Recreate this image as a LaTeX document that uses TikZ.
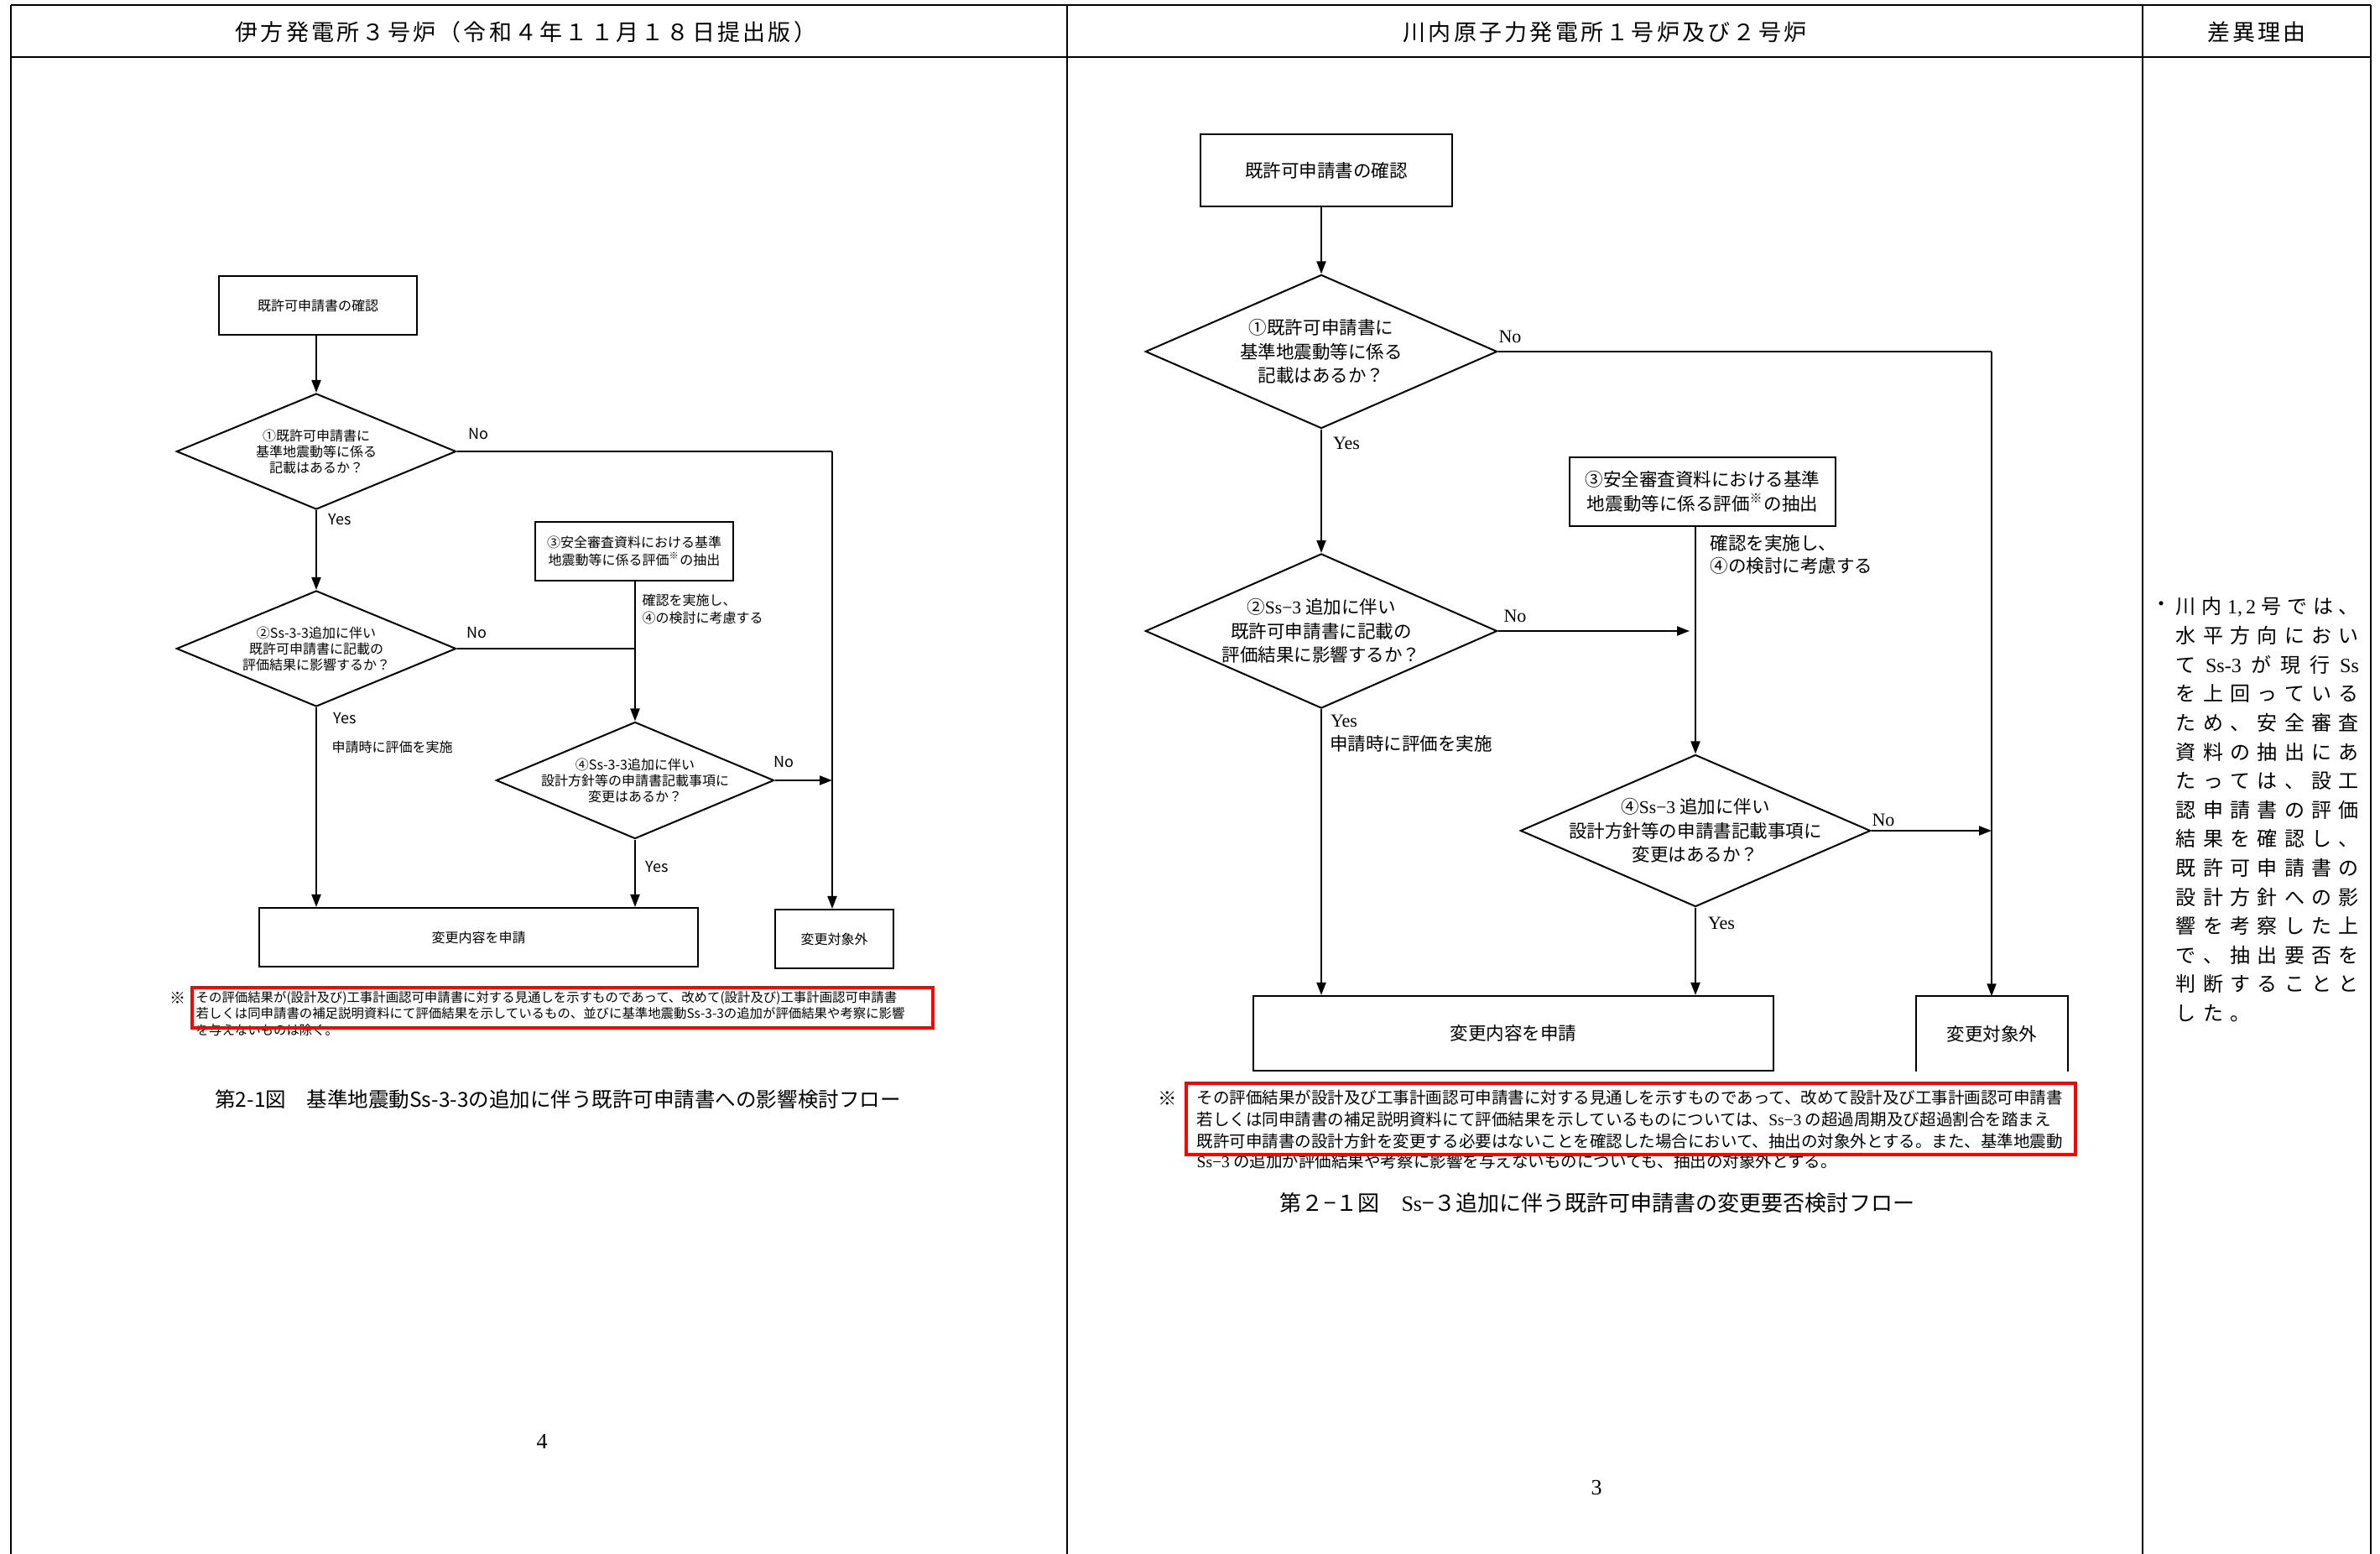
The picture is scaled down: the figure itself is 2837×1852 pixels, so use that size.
\documentclass[tikz,border=0pt]{standalone}
\usepackage{fontspec}
\setmainfont{Noto Sans CJK JP}
\newfontfamily\jp{Noto Sans CJK JP}
\newfontfamily\jphd[LetterSpace=12]{Noto Sans CJK JP}
\newfontfamily\serf{Liberation Serif}
\usetikzlibrary{shapes.geometric,arrows.meta}
\newcommand\fsz[2]{\fontsize{#1}{#2}\selectfont}
\newcommand\zl[1]{\makebox[0pt]{#1}}
\newcommand\SL[1]{\makebox[2.18cm][s]{#1}}
\tikzset{
 tbl/.style={line width=0.025cm},
 ln/.style={line width=0.02cm},
 arr/.style={ln,-{Triangle[length=0.15cm,width=0.11cm]}},
 lbox/.style={draw,ln,inner sep=0,align=center,font=\jp\fsz{4.55}{5.9}},
 ldia/.style={diamond,draw,ln,inner sep=0,align=center,font=\jp\fsz{4.55}{5.41},minimum width=3.33cm,minimum height=1.38cm},
 llab/.style={inner sep=0,font=\jp\fsz{5.12}{6}},
 ltxt/.style={inner sep=0,align=left,font=\jp\fsz{4.55}{5.97}},
 rbox/.style={draw,ln,inner sep=0,align=center,font=\jp\fsz{6.12}{8.25}},
 rdia/.style={diamond,draw,ln,inner sep=0,align=center,font=\jp\fsz{6.12}{8.11}},
 rlab/.style={inner sep=0,font=\serf\fsz{6.26}{7}},
 rtxt/.style={inner sep=0,align=left,font=\jp\fsz{6.12}{7.68}},
 lnote/.style={inner sep=0,anchor=west,font=\jp\fsz{4.38}{5.5}},
 rnote/.style={inner sep=0,anchor=west,font=\jp\fsz{5.55}{7}},
 redbox/.style={draw=red,line width=0.035cm},
 hd/.style={inner sep=0,font=\jphd\fsz{7.68}{9}},
 capt/.style={inner sep=0,font=\jp\fsz{6.97}{8}},
 colt/.style={inner sep=0,anchor=west,font=\jp\fsz{6.83}{8}},
 pg/.style={inner sep=0,font=\serf\fsz{7.4}{8}},
}
\begin{document}
\begin{tikzpicture}[x=0.01cm,y=-0.01cm]
\useasboundingbox (0,0) rectangle (2837,1852);
\fill[white] (0,0) rectangle (2837,1852);
% table
\draw[tbl] (13,6) -- (2826,6);
\draw[tbl] (13,68) -- (2826,68);
\draw[tbl] (13,6) -- (13,1852);
\draw[ln] (1272,6) -- (1272,1852);
\draw[ln] (2554,6) -- (2554,1852);
\draw[tbl] (2826,6) -- (2826,1852);
\node[hd] (h1) at (627,38) {伊方発電所３号炉（令和４年１１月１８日提出版）};
\node[hd] (h2) at (1913,38) {川内原子力発電所１号炉及び２号炉};
\node[hd] (h3) at (2690,38) {差異理由};

% ---------------- left flowchart
\node[lbox,minimum width=2.36cm,minimum height=0.69cm] (LA) at (379,364) {既許可申請書の確認};
\node[ldia] (L1) at (377,538) {\zl{①既許可申請書に}\\\zl{基準地震動等に係る}\\\zl{記載はあるか？}};
\node[lbox,minimum width=2.36cm,minimum height=0.69cm] (LC) at (756,657) {③安全審査資料における基準\\地震動等に係る評価\textsuperscript{※}の抽出};
\node[ldia] (L2) at (377,773) {\zl{②Ss-3-3追加に伴い}\\\zl{既許可申請書に記載の}\\\zl{評価結果に影響するか？}};
\node[ldia,minimum width=3.31cm,minimum height=1.39cm] (L4) at (757,930) {\zl{④Ss-3-3追加に伴い}\\\zl{設計方針等の申請書記載事項に}\\\zl{変更はあるか？}};
\node[lbox,minimum width=5.23cm,minimum height=0.70cm] (LE) at (570.5,1117) {変更内容を申請};
\node[lbox,minimum width=1.41cm,minimum height=0.70cm] (LF) at (994.5,1119) {変更対象外};
\coordinate (LK1) at (992,538);
\draw[arr] (L1.north |- LA.south) -- (L1.north);
\draw[ln] (L1.east) -- (LK1);
\draw[arr] (LK1) -- (LK1 |- LF.north);
\draw[arr] (L1.south) -- (L2.north);
\draw[ln] (L2.east) -- (L2.east -| L4.north);
\draw[arr] (L4.north |- LC.south) -- (L4.north);
\draw[arr] (L4.east) -- (L4.east -| LK1);
\draw[arr] (L2.south) -- (L2.south |- LE.north);
\draw[arr] (L4.south) -- (L4.south |- LE.north);
\node[llab] (ln1) at (570,517) {No};
\node[llab] (ly1) at (405,619) {Yes};
\node[llab] (ln2) at (568,754.5) {No};
\node[llab] (ly2) at (411,856) {Yes};
\node[llab] (ln4) at (934,908) {No};
\node[llab] (ly4) at (783,1033) {Yes};
\node[ltxt] (lt1) at (467.5,890) {申請時に評価を実施};
\node[ltxt,anchor=west] (lt2) at (765,725.5) {確認を実施し、\\④の検討に考慮する};
\node[inner sep=0,font=\jp\fsz{5.4}{6}] (lstar) at (212,1189) {※};
\node[lnote] (LN1) at (233,1189) {その評価結果が(設計及び)工事計画認可申請書に対する見通しを示すものであって、改めて(設計及び)工事計画認可申請書};
\node[lnote] (LN2) at (233,1208) {若しくは同申請書の補足説明資料にて評価結果を示しているもの、並びに基準地震動Ss-3-3の追加が評価結果や考察に影響};
\node[lnote] (LN3) at (233,1228) {を与えないものは除く。};
\draw[redbox] (229,1177) rectangle (1112,1225);
\node[capt] (lcap) at (665,1310) {第2-1図　基準地震動Ss-3-3の追加に伴う既許可申請書への影響検討フロー};
\node[pg] (p4) at (646,1718) {4};

% ---------------- right flowchart
\node[rbox,minimum width=2.99cm,minimum height=0.85cm] (RA) at (1581,203) {既許可申請書の確認};
\node[rdia,minimum width=4.19cm,minimum height=1.83cm] (R1) at (1575,419) {\zl{①既許可申請書に}\\\zl{基準地震動等に係る}\\\zl{記載はあるか？}};
\node[rbox,minimum width=3.16cm,minimum height=0.81cm] (RC) at (2029.5,586) {③安全審査資料における基準\\地震動等に係る評価\textsuperscript{※}の抽出};
\node[rdia,minimum width=4.19cm,minimum height=1.84cm] (R2) at (1575,752) {\zl{②{\serf Ss−3} 追加に伴い}\\\zl{既許可申請書に記載の}\\\zl{評価結果に影響するか？}};
\node[rdia,minimum width=4.17cm,minimum height=1.81cm] (R4) at (2021,990) {\zl{④{\serf Ss−3} 追加に伴い}\\\zl{設計方針等の申請書記載事項に}\\\zl{変更はあるか？}};
\node[rbox,minimum width=6.19cm,minimum height=0.89cm] (RE) at (1804,1231.5) {変更内容を申請};
\node[inner sep=0,minimum width=1.79cm,minimum height=0.88cm,font=\jp\fsz{6.12}{8}] (RF) at (2374.5,1232) {変更対象外};
\draw[ln] (RF.south west) -- (RF.north west) -- (RF.north east) -- (RF.south east);
\coordinate (RK1) at (2374,419);
\coordinate (RJ) at (2014,752);
\draw[arr] (R1.north |- RA.south) -- (R1.north);
\draw[ln] (R1.east) -- (RK1);
\draw[arr] (RK1) -- (RK1 |- RF.north);
\draw[arr] (R1.south) -- (R2.north);
\draw[arr] (R2.east) -- (RJ);
\draw[arr] (R4.north |- RC.south) -- (R4.north);
\draw[arr] (R4.east) -- (R4.east -| RK1);
\draw[arr] (R2.south) -- (R2.south |- RE.north);
\draw[arr] (R4.south) -- (R4.south |- RE.north);
\node[rlab] (rn1) at (1800,401) {No};
\node[rlab] (ry1) at (1605,528) {Yes};
\node[rlab] (rn2) at (1806,734) {No};
\node[rlab] (ry2) at (1602,859) {Yes};
\node[rlab] (rn4) at (2245,977) {No};
\node[rlab] (ry4) at (2052,1100) {Yes};
\node[rtxt] (rt1) at (1682,886) {申請時に評価を実施};
\node[rtxt,anchor=west] (rt2) at (2038,661) {確認を実施し、\\④の検討に考慮する};
\node[inner sep=0,font=\jp\fsz{6.4}{7}] (rstar) at (1392,1309) {※};
\node[rnote] (RN1) at (1426,1308) {その評価結果が設計及び工事計画認可申請書に対する見通しを示すものであって、改めて設計及び工事計画認可申請書};
\node[rnote] (RN2) at (1426,1334) {若しくは同申請書の補足説明資料にて評価結果を示しているものについては、{\serf Ss−3} の超過周期及び超過割合を踏まえ};
\node[rnote] (RN3) at (1426,1360) {既許可申請書の設計方針を変更する必要はないことを確認した場合において、抽出の対象外とする。また、基準地震動};
\node[rnote] (RN4) at (1426,1384) {{\serf Ss−3} の追加が評価結果や考察に影響を与えないものについても、抽出の対象外とする。};
\draw[redbox] (1414,1291) rectangle (2474,1376);
\node[capt,font=\jp\fsz{7.4}{8}] (rcap) at (1904,1434) {第２−１図　{\serf Ss}−３追加に伴う既許可申請書の変更要否検討フロー};
\node[pg] (p3) at (1903,1773) {3};

% ---------------- reason column
\node[inner sep=0,font=\jp\fsz{6.83}{8}] (bul) at (2576,723) {・};
\node[colt] (c1) at (2593,723.0) {\SL{川\hfill 内\hfill {\serf 1,\,2}\hfill 号\hfill で\hfill は\hfill 、}};
\node[colt] (c2) at (2593,757.6) {\SL{水\hfill 平\hfill 方\hfill 向\hfill に\hfill お\hfill い}};
\node[colt] (c3) at (2593,792.2) {\SL{て\hfill {\serf Ss-3}\hfill が\hfill 現\hfill 行\hfill {\serf Ss}}};
\node[colt] (c4) at (2593,826.8) {\SL{を\hfill 上\hfill 回\hfill っ\hfill て\hfill い\hfill る}};
\node[colt] (c5) at (2593,861.4) {\SL{た\hfill め\hfill 、\hfill 安\hfill 全\hfill 審\hfill 査}};
\node[colt] (c6) at (2593,896.0) {\SL{資\hfill 料\hfill の\hfill 抽\hfill 出\hfill に\hfill あ}};
\node[colt] (c7) at (2593,930.6) {\SL{た\hfill っ\hfill て\hfill は\hfill 、\hfill 設\hfill 工}};
\node[colt] (c8) at (2593,965.2) {\SL{認\hfill 申\hfill 請\hfill 書\hfill の\hfill 評\hfill 価}};
\node[colt] (c9) at (2593,999.8) {\SL{結\hfill 果\hfill を\hfill 確\hfill 認\hfill し\hfill 、}};
\node[colt] (c10) at (2593,1034.4) {\SL{既\hfill 許\hfill 可\hfill 申\hfill 請\hfill 書\hfill の}};
\node[colt] (c11) at (2593,1069.0) {\SL{設\hfill 計\hfill 方\hfill 針\hfill へ\hfill の\hfill 影}};
\node[colt] (c12) at (2593,1103.6) {\SL{響\hfill を\hfill 考\hfill 察\hfill し\hfill た\hfill 上}};
\node[colt] (c13) at (2593,1138.2) {\SL{で\hfill 、\hfill 抽\hfill 出\hfill 要\hfill 否\hfill を}};
\node[colt] (c14) at (2593,1172.8) {\SL{判\hfill 断\hfill す\hfill る\hfill こ\hfill と\hfill と}};
\node[colt] (c15) at (2593,1207.4) {\makebox[0.89cm][s]{し\hfill た\hfill 。}};
\end{tikzpicture}
\end{document}
